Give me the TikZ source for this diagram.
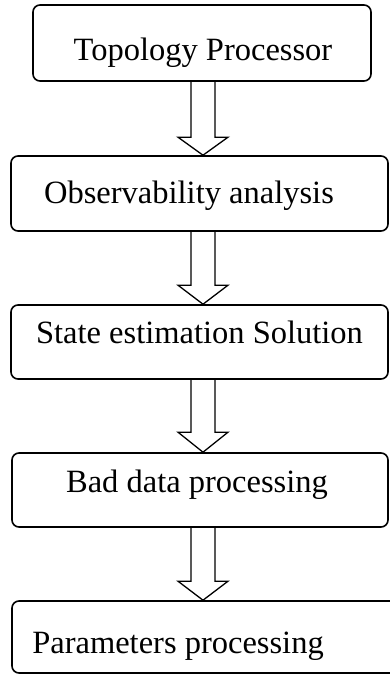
\documentclass[tikz,border=0pt]{standalone}
\usepackage{fontspec}
\setmainfont{Liberation Serif}
\usetikzlibrary{calc}

\tikzset{
  stage/.style={draw, line width=1.6pt, rounded corners=7pt, inner sep=0pt},
  caption/.style={inner sep=0pt, anchor=base, font=\fontsize{32.5}{39}\selectfont},
  blk/.style={draw, line width=1.3pt, line join=miter}
}

\begin{document}
\begin{tikzpicture}[x=1pt, y=1pt]
  \useasboundingbox (0,0) rectangle (390,-675);

  % stage boxes
  \node[stage, minimum width=338pt, minimum height=76pt] (b1) at (202,-43) {};
  \node[stage, minimum width=377pt, minimum height=75pt] (b2) at (199.5,-193.5) {};
  \node[stage, minimum width=377pt, minimum height=74pt] (b3) at (199.5,-342) {};
  \node[stage, minimum width=376pt, minimum height=74pt] (b4) at (200,-490) {};
  \node[stage, minimum width=392pt, minimum height=72pt] (b5) at (208,-637) {};

  % captions
  \node[caption] (t1) at (203,-60) {Topology Processor};
  \node[caption] (t2) at (189,-203) {Observability analysis};
  \node[caption] (t3) at (199.5,-343) {State estimation Solution};
  \node[caption] (t4) at (197,-492) {Bad data processing};
  \node[caption] (t5) at (178,-653) {Parameters processing};

  % axis of the block arrows
  \coordinate (ax) at (203,0);

  % hollow block arrows from each stage down to the next
  \foreach \u/\v/\h in {b1/b2/18, b2/b3/19, b3/b4/20, b4/b5/19} {
    \draw[blk]
      ($(ax |- \u.south)+(-12,0)$)
      -- ($(ax |- \v.north)+(-12,\h)$)
      -- ++(-13,0)
      -- (ax |- \v.north)
      -- ++(25,\h)
      -- ++(-13,0)
      -- ($(ax |- \u.south)+(12,0)$);
  }
\end{tikzpicture}
\end{document}
